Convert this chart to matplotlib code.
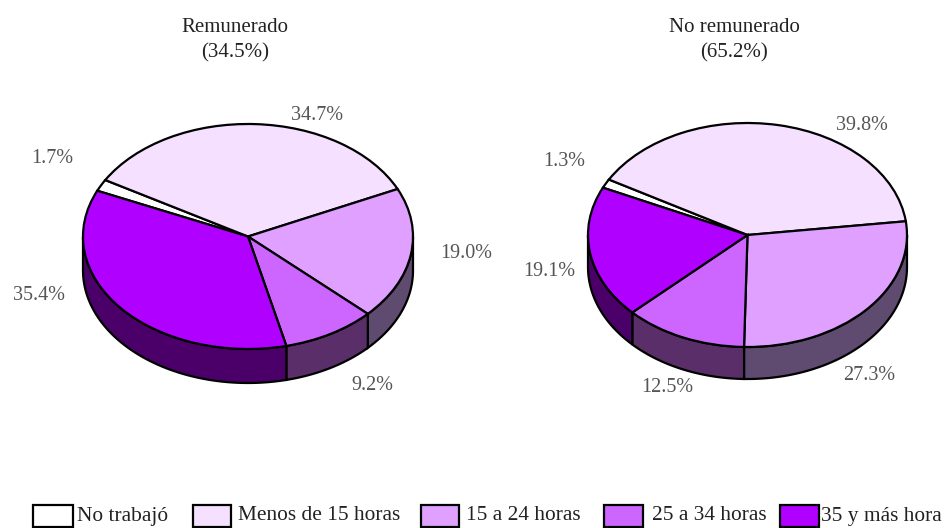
import numpy as np
import matplotlib
matplotlib.use("Agg")
import matplotlib.pyplot as plt
from matplotlib.patches import Rectangle

W, H = 945, 528

categories = ["No trabajó", "Menos de 15 horas", "15 a 24 horas", "25 a 34 horas", "35 y más hora"]
paid_values = [1.7, 34.7, 19.0, 9.2, 35.4]
unpaid_values = [1.3, 39.8, 27.3, 12.5, 19.1]
paid_title = "Remunerado\n(34.5%)"
unpaid_title = "No remunerado\n(65.2%)"

top_colors = ["#ffffff", "#f5e0ff", "#e0a0ff", "#cc66ff", "#b000ff"]
side_colors = ["#666666", "#5f5868", "#5f4a70", "#5a2e68", "#4a0068"]

plt.rcParams["font.family"] = ["Liberation Serif", "DejaVu Serif"]

fig = plt.figure(figsize=(W / 100, H / 100), dpi=100)


def px_text(x, y, s, size=14.5, color="#555555", **kw):
	kw.setdefault("ha", "center")
	fig.text(x / W, 1 - y / H, s, fontsize=size, color=color, va="center", **kw)


def draw_pie(values, startangle, left, right, top, bottom, depth):
	# axes box covers the top face plus the wall below it
	ax = fig.add_axes([left / W, 1 - bottom / H, (right - left) / W, (bottom - top) / H])
	wedges, _ = ax.pie(values, colors=top_colors, startangle=startangle, counterclock=False,
		wedgeprops={"edgecolor": "black", "linewidth": 1.6, "clip_on": False}, normalize=True)
	ry = (bottom - top - depth) / 2
	drop = depth / ry
	for wedge, side in zip(wedges, side_colors):
		for lo, hi in ((-540, -360), (-180, 0), (180, 360)):
			t1 = max(wedge.theta1, lo)
			t2 = min(wedge.theta2, hi)
			if t1 >= t2:
				continue
			t = np.radians(np.linspace(t1, t2, 80))
			xs = np.cos(t)
			ys = np.sin(t)
			ax.fill(np.r_[xs, xs[::-1]], np.r_[ys, ys[::-1] - drop], facecolor=side,
				edgecolor="black", linewidth=1.6, zorder=0.5, clip_on=False)
	ax.set_aspect("auto")
	ax.set_xlim(-1, 1)
	ax.set_ylim(-1 - drop, 1)
	ax.set_axis_off()
	return ax


draw_pie(paid_values, 156, 83, 413, 124, 383, 34)
draw_pie(unpaid_values, 155, 588, 907, 123, 379, 32)

# titles
for x, s in ((235, paid_title), (734, unpaid_title)):
	top, low = s.split("\n")
	px_text(x, 27, top, size=15, color="#222222")
	px_text(x, 53, low, size=15, color="#222222")

# value labels
paid_pos = [(52, 158), (317, 116), (466, 253), (372, 385), (39, 295)]
unpaid_pos = [(564, 161), (862, 125), (869, 376), (667, 388), (549, 271)]
for vals, pos in ((paid_values, paid_pos), (unpaid_values, unpaid_pos)):
	for v, (x, y) in zip(vals, pos):
		px_text(x, y, "{:.1f}%".format(v))

# legend
box_left = [33, 193, 421, 604, 780]
box_right = [73, 231, 459, 643, 819]
text_left = [77, 238, 466, 652, 821]
for name, color, x0, x1, tx in zip(categories, top_colors, box_left, box_right, text_left):
	fig.add_artist(Rectangle((x0 / W, 1 - 527 / H), (x1 - x0) / W, 22 / H, transform=fig.transFigure,
		facecolor=color, edgecolor="black", linewidth=1.6))
	px_text(tx, 516, name, size=15.4, color="#222222", ha="left")

fig.savefig("out.png", dpi=100)
